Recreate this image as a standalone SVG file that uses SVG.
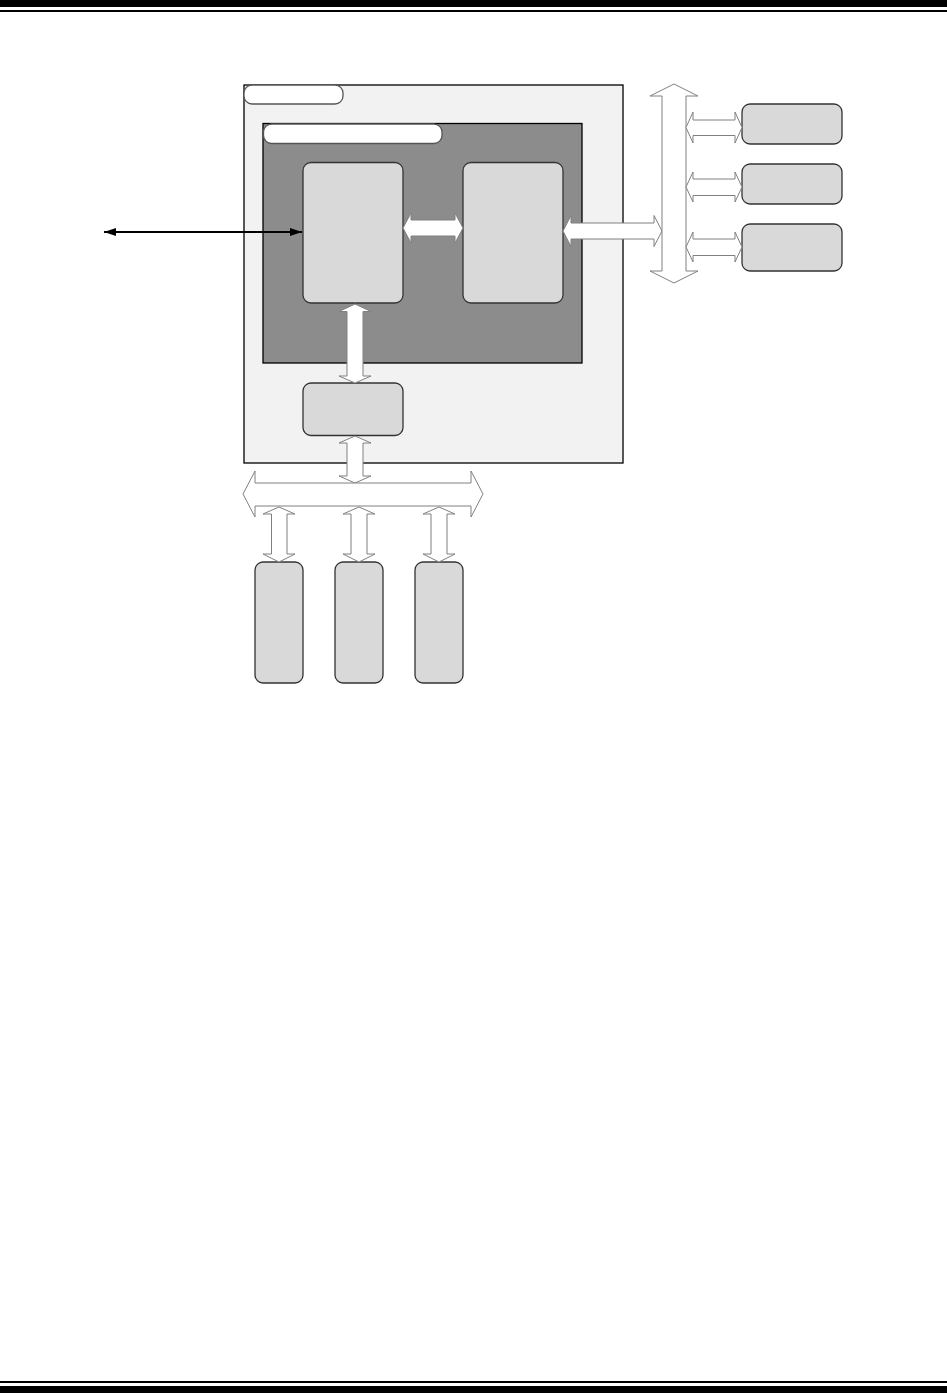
<svg xmlns="http://www.w3.org/2000/svg" width="947" height="1393" viewBox="0 0 947 1393">
<style>
.bar{fill:#000}
.outer{fill:#f2f2f2;stroke:#000;stroke-width:1.3}
.inner{fill:#8c8c8c;stroke:#000;stroke-width:1.3}
.tab{fill:#fff;stroke:#555;stroke-width:1.3}
.blk{fill:#d9d9d9;stroke:#333;stroke-width:1.3}
.fat{fill:#fff;stroke:#808080;stroke-width:1}
.thin{stroke:#000;stroke-width:2;fill:none}
</style>
<defs>
<marker id="ah" viewBox="0 0 12 8" refX="12" refY="4" markerWidth="12" markerHeight="8" markerUnits="userSpaceOnUse" orient="auto-start-reverse">
<path d="M0,0 L12,4 L0,8 Z" fill="#000"/>
</marker>
</defs>
<rect class="bar" x="0" y="0" width="947" height="7"/>
<rect class="bar" x="0" y="10" width="947" height="2"/>
<rect class="bar" x="0" y="1381" width="947" height="2"/>
<rect class="bar" x="0" y="1386" width="947" height="7"/>

<g id="outer-box">
<rect class="outer" x="244" y="85" width="379" height="378"/>
<rect class="tab" x="244" y="85" width="99" height="19" rx="8"/>
</g>
<g id="inner-box">
<rect class="inner" x="263" y="123.5" width="319" height="239.5"/>
<rect class="tab" x="263.5" y="124" width="178.5" height="19.5" rx="8"/>
</g>
<g id="block-a"><rect class="blk" x="303" y="162.5" width="100" height="140.5" rx="8"/></g>
<g id="block-b"><rect class="blk" x="463" y="162.5" width="100" height="140.5" rx="8"/></g>
<g id="block-c"><rect class="blk" x="303" y="383" width="100" height="52.5" rx="8"/></g>
<g id="right-1"><rect class="blk" x="742" y="104" width="100" height="40" rx="8"/></g>
<g id="right-2"><rect class="blk" x="742" y="164" width="100" height="40" rx="8"/></g>
<g id="right-3"><rect class="blk" x="742" y="224" width="100" height="47" rx="8"/></g>
<g id="bottom-1"><rect class="blk" x="255" y="562" width="48" height="121" rx="8"/></g>
<g id="bottom-2"><rect class="blk" x="335" y="562" width="48" height="121" rx="8"/></g>
<g id="bottom-3"><rect class="blk" x="415" y="562" width="48" height="121" rx="8"/></g>

<g id="connectors">
<line class="thin" x1="104" y1="232" x2="302" y2="232" marker-start="url(#ah)" marker-end="url(#ah)"/>
<!-- A-B -->
<polygon class="fat" points="403,228 411,213 411,220 455,220 455,213 463,228 455,243 455,236 411,236 411,243"/>
<!-- B-bus -->
<polygon class="fat" points="563,231 571,215.5 571,223 654,223 654,215.5 662,231 654,246.5 654,239 571,239 571,246.5"/>
<!-- vertical bus -->
<polygon class="fat" points="674,84 698,96 686,96 686,271 698,271 674,283 650,271 662,271 662,96 650,96"/>
<!-- right small arrows -->
<polygon class="fat" points="686,127.5 693,112 693,120 735,120 735,112 742,127.5 735,143 735,135.5 693,135.5 693,143"/>
<polygon class="fat" points="686,187 693,172 693,179 735,179 735,172 742,187 735,202 735,195.5 693,195.5 693,202"/>
<polygon class="fat" points="686,247 693,232 693,239 735,239 735,232 742,247 735,262 735,255.5 693,255.5 693,262"/>
<!-- A-C -->
<polygon class="fat" points="355,304 371,311.5 363,311.5 363,376 371,376 355,383 339,376 347,376 347,311.5 339,311.5"/>
<!-- C-bus -->
<polygon class="fat" points="355,436 371,443 363,443 363,476 371,476 355,483 339,476 347,476 347,443 339,443"/>
<!-- horizontal bus -->
<polygon class="fat" points="243,494 255,471 255,483 471,483 471,471 483,494 471,517 471,506 255,506 255,517"/>
<!-- bottom small arrows -->
<polygon class="fat" points="279,507 295,514 287,514 287,554 295,554 279,562 263,554 271.5,554 271.5,514 263,514"/>
<polygon class="fat" points="359,507 375,514 367,514 367,554 375,554 359,562 343,554 351,554 351,514 343,514"/>
<polygon class="fat" points="439,507 455,514 447,514 447,554 455,554 439,562 423,554 431,554 431,514 423,514"/>
</g>
</svg>
